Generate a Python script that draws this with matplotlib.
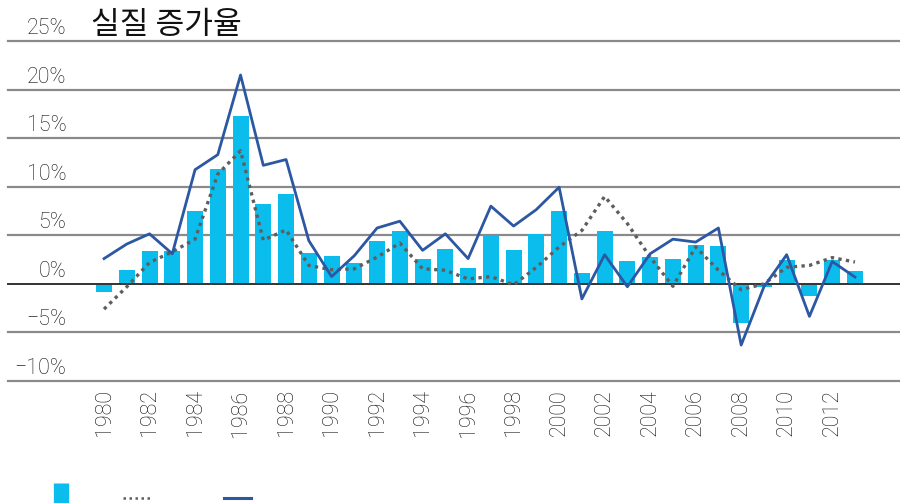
import matplotlib
matplotlib.use('Agg')
from matplotlib import pyplot as plt
from matplotlib.lines import Line2D
from matplotlib.transforms import ScaledTranslation

years = list(range(1980, 2014))
barras = [-0.8, 1.45, 3.4, 3.35, 7.55, 11.85, 17.3, 8.2, 9.3, 3.15, 2.85, 2.15,
          4.45, 5.45, 2.55, 3.55, 1.65, 4.9, 3.45, 5.15, 7.55, 1.15, 5.45, 2.35,
          2.75, 2.55, 4.05, 3.85, -4.05, -0.35, 2.45, -1.2, 2.45, 1.35]
linea_solida = [2.6, 4.1, 5.15, 3.1, 11.75, 13.3, 21.5, 12.2, 12.8, 4.45, 0.75,
                2.9, 5.75, 6.45, 3.45, 5.15, 2.6, 8.0, 5.95, 7.65, 9.95, -1.55,
                3.0, -0.3, 3.1, 4.6, 4.3, 5.75, -6.3, -0.3, 3.0, -3.35, 2.3, 0.7]
linea_punteada = [-2.6, -0.3, 2.2, 3.3, 4.6, 11.3, 13.7, 4.5, 5.55, 1.9, 1.45,
                  1.55, 2.75, 4.2, 1.55, 1.4, 0.5, 0.75, -0.1, 1.7, 3.8, 5.5,
                  9.0, 6.2, 2.75, -0.25, 3.8, 1.4, -0.6, 0.0, 1.7, 1.9, 2.7, 2.25]
ticks_y = [-10, -5, 0, 5, 10, 15, 20, 25]
ticks_x = list(range(1980, 2013, 2))

color_barra = '#0BBDEC'
color_solida = '#2C57A2'
color_punteada = '#5E5E5E'
color_texto = '#111111'
fuente = ['Roboto', 'DejaVu Sans']

fig = plt.figure(figsize=(9, 5.03), dpi=100)
ax = fig.add_axes([8 / 900, 122 / 503, 892 / 900, 340 / 503])

ax.bar(years, barras, width=0.7, color=color_barra, zorder=2)
ax.plot(years, linea_punteada, color=color_punteada, lw=2.4,
        linestyle=(0, (1, 1.3)), zorder=3)
ax.plot(years, linea_solida, color=color_solida, lw=2, zorder=4)

for v in ticks_y:
    if v == 0:
        ax.axhline(v, color='#333333', lw=1.4, zorder=2.5, clip_on=False)
    else:
        ax.axhline(v, color='#8a8a8a', lw=1.6, zorder=1, clip_on=False)

ax.set_xlim(1975.78, 2014.98)
ax.set_ylim(-10, 25)
for s in ax.spines.values():
    s.set_visible(False)

ax.set_yticks(ticks_y)
ax.set_yticklabels([(f'\u2212{-v}%' if v < 0 else f'{v}%') for v in ticks_y])
ax.tick_params(axis='y', length=0, pad=-42, labelsize=15.5, labelcolor=color_texto)
desplaza = ScaledTranslation(0, 0.15, fig.dpi_scale_trans)
for lab in ax.get_yticklabels():
    lab.set_transform(lab.get_transform() + desplaza)
    lab.set_family(fuente)
    lab.set_weight('light')

ax.set_xticks(ticks_x)
ax.set_xticklabels([str(y) for y in ticks_x], rotation=90, family=fuente,
                   weight='light')
ax.tick_params(axis='x', length=0, pad=6, labelsize=15.5, labelcolor=color_texto)

fig.text(91 / 900, 1 - 25 / 503, '실질 증가율', fontsize=22.5, va='center',
         ha='left', family=['Noto Sans CJK KR', 'DejaVu Sans'], weight='light',
         color=color_texto)

handles = [
    Line2D([], [], color=color_barra, marker='|', markersize=22, mew=11,
           linestyle='none'),
    Line2D([], [], color=color_punteada, lw=1.8, linestyle=(0, (1, 1.4))),
    Line2D([], [], color=color_solida, lw=2.2),
]
fig.legend(handles, ['', '      ', ''], ncol=3, frameon=False, loc='center left',
           bbox_to_anchor=(35 / 900, 1 - 499 / 503), handlelength=1.95,
           columnspacing=3.45, handletextpad=0, fontsize=10)

fig.savefig('out.png', dpi=100)
